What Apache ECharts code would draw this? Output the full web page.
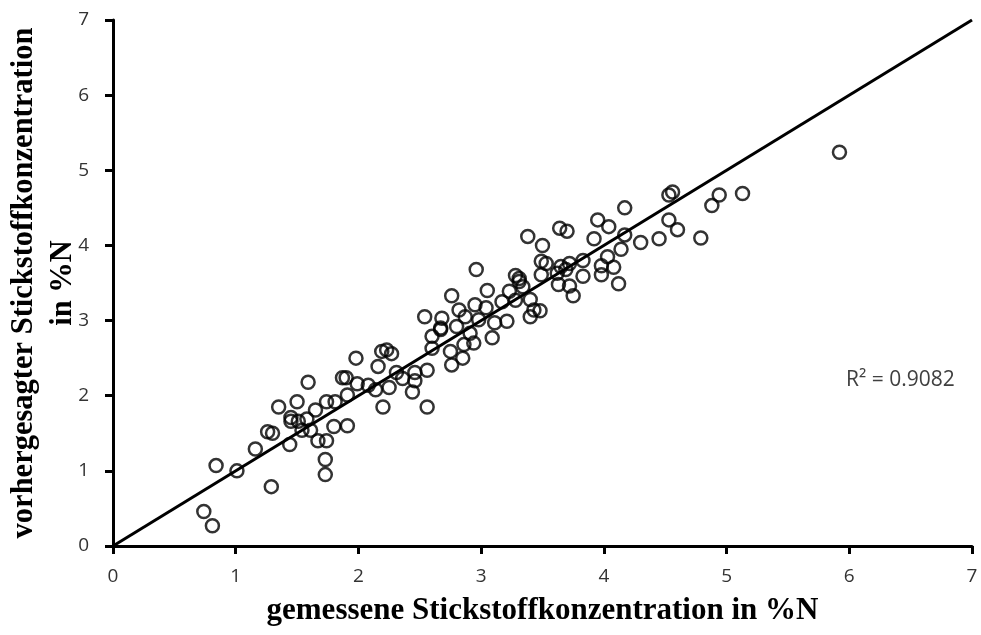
<!DOCTYPE html>
<html>
<head>
<meta charset="utf-8">
<script src="https://cdn.jsdelivr.net/npm/echarts@6/dist/echarts.min.js"></script>
<style>html,body{margin:0;padding:0;background:#fff}#c{width:981px;height:635px}</style>
</head>
<body>
<div id="c"></div>
<script>
// measured N (%N) and predicted N (%N)
const measured = [0.74,0.81,0.84,1.01,1.16,1.29,1.26,1.30,1.35,1.44,1.45,1.45,1.50,1.51,1.58,1.59,1.54,1.61,1.65,1.67,1.74,1.73,1.73,1.74,1.81,1.80,1.91,1.87,1.90,1.91,1.98,1.99,
2.08,2.14,2.16,2.20,2.19,2.23,2.27,2.25,2.31,2.36,2.44,2.46,2.46,2.56,2.56,2.54,2.60,2.60,2.67,2.68,2.76,2.75,2.76,2.80,2.82,2.85,2.86,2.87,2.94,2.95,2.96,3.04,3.05,3.09,3.11,2.98,2.91,3.17,3.21,3.23,3.28,3.31,3.34,3.28,3.40,3.48,3.40,3.38,3.50,3.49,3.49,3.64,3.70,3.65,3.72,3.63,3.72,3.75,3.83,3.83,3.95,4.04,4.17,3.92,4.17,4.14,4.03,3.98,4.08,3.98,4.12,4.30,4.45,4.53,4.56,4.53,4.60,4.79,4.88,4.94,5.13,5.92,3.53,3.62,3.69,3.43,3.31,2.67];
const predicted = [0.46,0.27,1.07,1.00,1.29,0.79,1.52,1.50,1.85,1.35,1.71,1.66,1.92,1.66,1.69,2.18,1.54,1.54,1.81,1.40,1.40,1.15,0.95,1.92,1.92,1.59,1.60,2.24,2.24,2.01,2.50,2.16,
2.14,2.08,2.39,1.85,2.59,2.61,2.56,2.11,2.31,2.23,2.05,2.31,2.20,1.85,2.34,3.05,2.79,2.63,2.88,3.03,3.33,2.59,2.41,2.92,3.14,2.50,2.68,3.05,2.70,3.21,3.68,3.17,3.40,2.77,2.97,3.01,2.83,3.25,2.99,3.39,3.60,3.56,3.45,3.27,3.28,3.13,3.05,4.12,4.00,3.79,3.61,4.23,4.19,3.72,3.76,3.48,3.46,3.33,3.80,3.59,4.34,4.25,4.50,4.09,4.14,3.95,3.85,3.73,3.71,3.61,3.49,4.04,4.09,4.67,4.71,4.34,4.21,4.10,4.53,4.67,4.69,5.24,3.76,3.63,3.68,3.14,3.52,2.90];
const lineX = [0, 7];
const lineY = [0, 7];
const tickValues = [0,1,2,3,4,5,6,7];
const xTitle = 'gemessene Stickstoffkonzentration in %N';
const yTitle = 'vorhergesagter Stickstoffkonzentration\nin %N';
const r2Text = 'R² = 0.9082';

const chart = echarts.init(document.getElementById('c'), null, {renderer:'canvas'});
const axisCommon = {
  type:'value', min:tickValues[0], max:tickValues[tickValues.length-1], interval:1,
  axisLine:{show:true, lineStyle:{color:'#000', width:3}},
  axisTick:{show:true, inside:false, length:8, lineStyle:{color:'#000', width:3}},
  splitLine:{show:false},
  axisLabel:{color:'#333', fontFamily:'Open Sans', fontSize:19},
  nameMoveOverlap:false,
  nameTextStyle:{fontFamily:'Liberation Serif', fontWeight:'bold', fontSize:31, color:'#000'}
};
chart.setOption({
  animation:false,
  backgroundColor:'#fff',
  grid:{left:113, right:9, top:20, bottom:89, containLabel:false, outerBoundsMode:'none'},
  xAxis:Object.assign({}, axisCommon, {
    name:xTitle, nameLocation:'middle', nameGap:49,
    axisLabel:Object.assign({}, axisCommon.axisLabel, {margin:21})
  }),
  yAxis:Object.assign({}, axisCommon, {
    name:yTitle, nameLocation:'middle', nameGap:30, nameRotate:90,
    nameTextStyle:Object.assign({}, axisCommon.nameTextStyle, {fontSize:30.5, lineHeight:39}),
    axisLabel:Object.assign({}, axisCommon.axisLabel, {margin:24})
  }),
  graphic:[{
    type:'text', left:846, top:370,
    style:{text:r2Text, font:'21px "Open Sans"', fill:'#404040'}
  }],
  series:[
    {
      type:'line', data:lineX.map((x,i)=>[x,lineY[i]]), symbol:'none',
      lineStyle:{color:'#000', width:3}, z:1
    },
    {
      type:'scatter', data:measured.map((x,i)=>[x,predicted[i]]),
      symbol:'circle', symbolSize:13,
      itemStyle:{color:'rgba(0,0,0,0)', borderColor:'#000', borderWidth:2.5},
      z:2
    }
  ]
});
</script>
</body>
</html>
